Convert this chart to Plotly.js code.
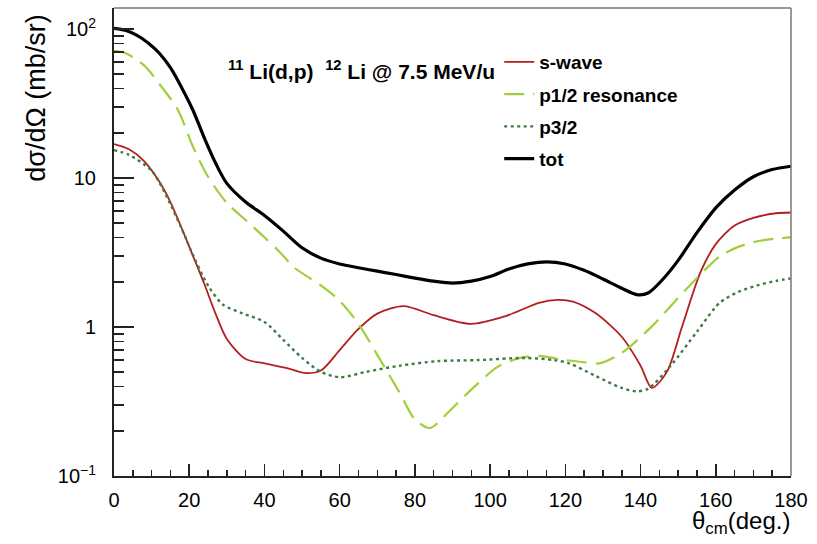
<!DOCTYPE html>
<html>
<head>
<meta charset="utf-8">
<script src="https://cdn.plot.ly/plotly-3.0.1.min.js"></script>
<style>html,body{margin:0;padding:0;background:#fff;}#chart{width:817px;height:544px;}</style>
</head>
<body>
<div id="chart"></div>
<script>
// s-wave
const sAngle = [0,4,8,12,15,18,21,24,27,30,35,40,46,51,55,60,65,70,77,85,95,104,113,118,122,128,135,140,143,147,151,156,160,165,170,176,180];
const sValue = [16.9,15.6,13,9.5,6.9,4.6,3.0,1.95,1.23,0.83,0.61,0.57,0.53,0.49,0.51,0.70,0.97,1.23,1.38,1.2,1.05,1.18,1.45,1.52,1.48,1.24,0.86,0.55,0.39,0.5,1.0,2.35,3.6,4.8,5.4,5.8,5.87];
// p1/2 resonance
const p12Angle = [0,3,8,12,17,21,25,30,34,40,44,48,55,60,65,70,76,80,84,89,95,102,108,113,120,125,129,135,143,152,161,166,171,176,180];
const p12Value = [71.5,69,57,43,28.6,16.2,10.2,6.8,5.5,4.0,3.2,2.5,1.9,1.5,1.05,0.65,0.36,0.24,0.21,0.27,0.38,0.54,0.62,0.64,0.60,0.58,0.57,0.67,1.01,1.78,2.97,3.45,3.76,3.92,3.99];
// p3/2
const p32Angle = [0,4,10,14,19,20,25,29,34,40,45,50,55,60,67,76,86,97,109,117,121,128,135,139,142,148,155,161,166,171,176,180];
const p32Value = [15.4,14.3,11.2,7.5,4.0,3.46,1.9,1.41,1.24,1.08,0.82,0.62,0.50,0.46,0.50,0.55,0.59,0.60,0.62,0.60,0.57,0.47,0.39,0.37,0.385,0.55,0.93,1.45,1.72,1.9,2.04,2.12];
// total
const totAngle = [0,3,6,9,12,15,18,21,24,27,30,35,40,45,50,55,60,65,70,75,80,85,90,95,100,105,110,115,120,125,130,135,139,142,146,150,155,160,165,170,175,180];
const totValue = [101,98,91,81,69,55,40.4,28.5,18.6,12.6,9.2,6.9,5.6,4.4,3.4,2.9,2.65,2.5,2.37,2.25,2.13,2.03,1.97,2.03,2.18,2.45,2.65,2.74,2.65,2.4,2.1,1.82,1.65,1.69,2.1,2.8,4.3,6.3,8.3,10.2,11.4,12.0];

const seriesNames = ['s-wave','p1/2 resonance','p3/2','tot'];
const yTickAlias = {'100':'10<sup>2</sup>','0.1':'10<sup>−1</sup>'};

const FONT = 'Liberation Sans, Arial, Helvetica, sans-serif';

const traces = [
  {x:sAngle, y:sValue, name:seriesNames[0], mode:'lines', line:{color:'#b41e1e', width:1.8, shape:'spline', smoothing:0.8}, legendgroup:'a'},
  {x:p12Angle, y:p12Value, name:seriesNames[1], mode:'lines', line:{color:'#9fd03c', width:2.2, dash:'20px,9px', shape:'spline', smoothing:0.8}, legendgroup:'b'},
  {x:p32Angle, y:p32Value, name:seriesNames[2], mode:'lines', line:{color:'#3f7a45', width:2.4, dash:'3px,3.5px', shape:'spline', smoothing:0.8}, legendgroup:'c'},
  {x:totAngle, y:totValue, name:seriesNames[3], mode:'lines', line:{color:'#000000', width:3.2, shape:'spline', smoothing:0.8}, legendgroup:'d'}
];

const layout = {
  width:817, height:544,
  margin:{l:114, r:26, t:8, b:68, pad:0},
  paper_bgcolor:'#fff', plot_bgcolor:'#fff',
  font:{family:FONT, color:'#000'},
  showlegend:true,
  legend:{x:0.569, y:0.925, xanchor:'left', yanchor:'top', bgcolor:'rgba(0,0,0,0)', borderwidth:0,
          font:{family:FONT, size:19, color:'#000', weight:'bold'}, tracegroupgap:4.5, traceorder:'grouped'},
  xaxis:{range:[0,180], showgrid:false, zeroline:false, showline:true, linecolor:'#222', linewidth:2,
         ticks:'inside', ticklen:12, tickwidth:1.5, tickcolor:'#222', dtick:20, tick0:0,
         tickfont:{family:FONT, size:20, color:'#000'}, ticklabelstandoff:5,
         minor:{ticks:'inside', ticklen:6, tickwidth:1.5, tickcolor:'#222', dtick:5}},
  yaxis:{type:'log', range:[-1, 2.141], showgrid:false, zeroline:false, showline:true, linecolor:'#222', linewidth:2,
         ticks:'inside', ticklen:20, tickwidth:1.5, tickcolor:'#222', dtick:1,
         labelalias:yTickAlias,
         tickfont:{family:FONT, size:20, color:'#000'}, ticklabelstandoff:12,
         minor:{ticks:'inside', ticklen:10, tickwidth:1.5, tickcolor:'#222', dtick:'D1'}},
  shapes:[
    {type:'line', xref:'paper', yref:'paper', x0:0, x1:1, y0:1, y1:1, line:{color:'#777', width:1.5}},
    {type:'line', xref:'paper', yref:'paper', x0:1, x1:1, y0:0, y1:1, line:{color:'#777', width:1.5}}
  ],
  annotations:[
    {text:'<sup>11</sup> Li(d,p)  <sup>12</sup> Li @ 7.5 MeV/u', xref:'paper', yref:'paper', x:0.1654, y:0.8675,
     xanchor:'left', yanchor:'middle', showarrow:false, font:{family:FONT, size:21, color:'#000', weight:'bold'}},
    {text:'dσ/dΩ (mb/sr)', xref:'paper', yref:'paper', x:-0.1145, y:0.99, xanchor:'center', yanchor:'top',
     textangle:-90, showarrow:false, font:{family:FONT, size:27, color:'#000'}},
    {text:'θ<sub>cm</sub>(deg.)', xref:'paper', yref:'paper', x:1.0015, y:-0.062, xanchor:'right', yanchor:'top',
     showarrow:false, font:{family:FONT, size:24, color:'#000'}}
  ]
};

Plotly.newPlot('chart', traces, layout, {displayModeBar:false, staticPlot:true});
</script>
</body>
</html>
